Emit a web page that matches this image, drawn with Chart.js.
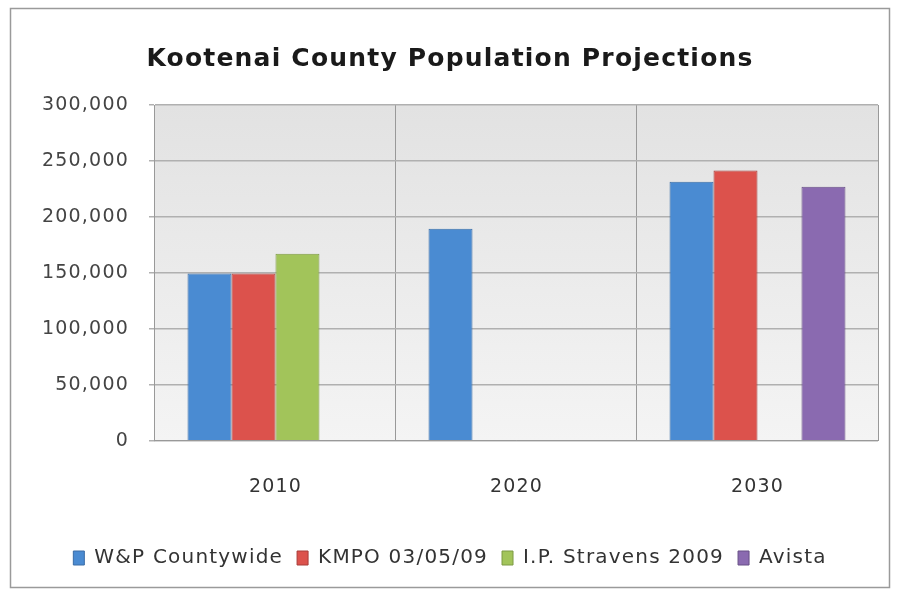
<!DOCTYPE html>
<html>
<head>
<meta charset="utf-8">
<script src="https://cdn.jsdelivr.net/npm/chart.js@4/dist/chart.umd.min.js"></script>
<style>
  html, body { margin: 0; padding: 0; background: #fff; }
  #wrap { width: 898px; height: 590px; position: relative; }
</style>
</head>
<body>
<div id="wrap"><canvas id="chart"></canvas></div>
<script>
"use strict";

// values
const years = ['2010', '2020', '2030'];
const wpCountywide = [149500, 189500, 231500];
const kmpo = [149500, null, 241500];
const stravens = [167000, null, null];
const avista = [null, null, 227000];
const seriesNames = ['W&P Countywide', 'KMPO 03/05/09', 'I.P. Stravens 2009', 'Avista'];

// the original text is wide and loose, so space the letters a bit
const wideText = {
  id: 'wideText',
  beforeUpdate(chart) { chart.ctx.letterSpacing = '1.2px'; },
  beforeDraw(chart) { chart.ctx.letterSpacing = '1.2px'; }
};

const plotBackground = {
  id: 'plotBackground',
  beforeDraw(chart) {
    const { ctx, chartArea: a } = chart;
    const g = ctx.createLinearGradient(0, a.top, 0, a.bottom);
    g.addColorStop(0, '#e2e2e2');
    g.addColorStop(1, '#f4f4f4');
    ctx.save();
    ctx.fillStyle = g;
    ctx.fillRect(a.left, a.top, a.right - a.left, a.bottom - a.top);
    ctx.restore();
  },
  afterDraw(chart) {
    const ctx = chart.ctx;
    ctx.save();
    ctx.strokeStyle = '#9a9a9a';
    ctx.lineWidth = 1.5;
    ctx.strokeRect(10.5, 8.5, 879, 579);
    ctx.restore();
  }
};

function bars(label, data, fill, edge) {
  return {
    label: label,
    data: data,
    backgroundColor: fill,
    borderColor: edge,
    borderWidth: 1,
    barPercentage: 1.0,
    categoryPercentage: 0.73
  };
}

const font = 'DejaVu Sans';

new Chart(document.getElementById('chart'), {
  type: 'bar',
  data: {
    labels: years,
    datasets: [
      bars(seriesNames[0], wpCountywide, '#4a8bd2', '#3a6da6'),
      bars(seriesNames[1], kmpo, '#dc524c', '#a83c38'),
      bars(seriesNames[2], stravens, '#a2c45a', '#7d9a44'),
      bars(seriesNames[3], avista, '#8a6ab0', '#674f86')
    ]
  },
  options: {
    responsive: true,
    maintainAspectRatio: false,
    animation: false,
    layout: { padding: { left: 22, right: 20, top: 0, bottom: 12 } },
    plugins: {
      title: {
        display: true,
        text: 'Kootenai County Population Projections',
        color: '#1a1a1a',
        font: { family: font, size: 25, weight: 'bold' },
        padding: { top: 44, bottom: 31 }
      },
      legend: {
        position: 'bottom',
        labels: {
          color: '#333',
          font: { family: font, size: 20 },
          boxWidth: 11,
          boxHeight: 14,
          padding: 14
        }
      },
      tooltip: { enabled: false }
    },
    scales: {
      x: {
        grid: { offset: true, color: '#999', drawTicks: false },
        border: { color: '#999' },
        ticks: {
          color: '#333',
          padding: 42.5,
          font: { family: font, size: 19, lineHeight: 0.44 }
        }
      },
      y: {
        min: 0,
        max: 300000,
        grid: { color: '#b0b0b0', lineWidth: 1.5, tickLength: 6 },
        border: { color: '#999' },
        ticks: {
          stepSize: 50000,
          color: '#444',
          padding: 20,
          font: { family: font, size: 19 },
          callback: (v) => v.toLocaleString('en-US')
        }
      }
    }
  },
  plugins: [wideText, plotBackground]
});
</script>
</body>
</html>
